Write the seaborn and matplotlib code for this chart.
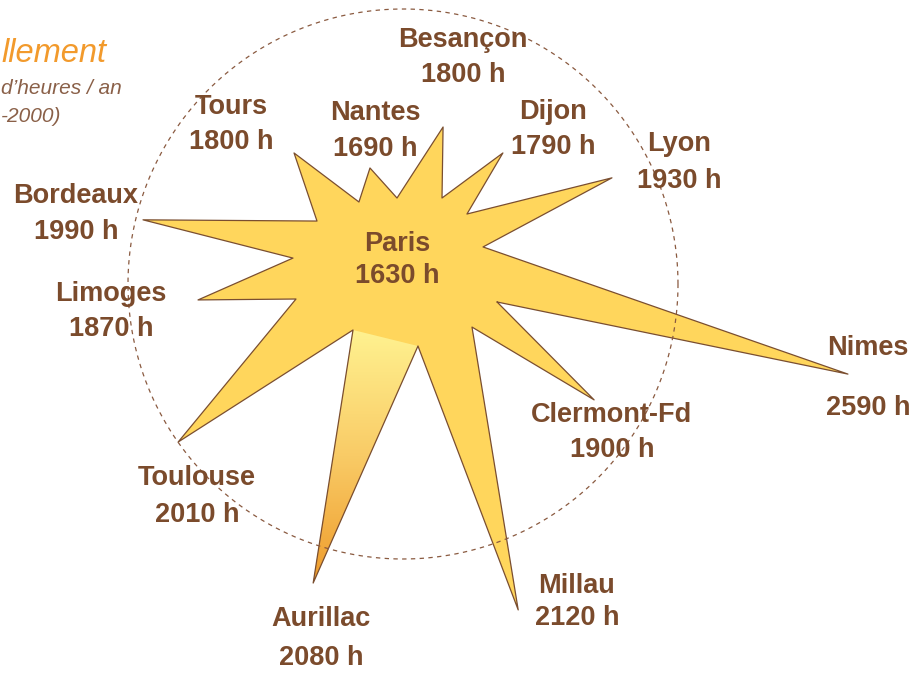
import numpy as np
import matplotlib.pyplot as plt
import seaborn as sns
from matplotlib.colors import LinearSegmentedColormap
from matplotlib.patches import Polygon

# Ensoleillement moyen par ville (heures / an)
villes = ["Nimes", "Lyon", "Dijon", "Besançon", "Nantes", "Tours",
          "Bordeaux", "Limoges", "Toulouse", "Aurillac", "Millau", "Clermont-Fd"]
heures = [2590, 1930, 1790, 1800, 1690, 1800, 1990, 1870, 2010, 2080, 2120, 1900]
paris_heures = 1630

# direction (degrés) et longueur de chaque branche de l'étoile, depuis Paris
branche_angle = [-13.9, 21.2, 45.3, 70.4, 104.9, 132.8, 170.5, 190.9, 219.7, 255.7, 289.5, 325.3]
branche_long = [466.6, 232.7, 153.4, 143.3, 97.3, 148.6, 255.5, 200.6, 281.9, 331.3, 369.1, 242.2]
# creux entre deux branches (angle, rayon)
creux_angle = [9.7, 33.7, 53.7, 88.2, 121.0, 152.3, 177.8, 200.5, 238.3, 285.3, 319.8, 338.6]
creux_rayon = [89.3, 86.5, 79.4, 64.0, 70.0, 88.1, 102.1, 105.7, 79.9, 87.1, 100.8, 109.6]

# textes du titre, visibles seulement en partie sur l'image
titre = "llement"
sous_titre = ["d’heures / an", "-2000)"]

# position des étiquettes (pixels de l'image : centre du nom, centre des heures)
etiquettes = {
    "Nimes": (868, 348, 408), "Lyon": (679, 144, 181), "Dijon": (553, 112, 147),
    "Besançon": (463, 40, 75), "Nantes": (375, 113, 149), "Tours": (231, 107, 142),
    "Bordeaux": (76, 196, 232), "Limoges": (111, 294, 329), "Toulouse": (197, 478, 515),
    "Aurillac": (321, 619, 658), "Millau": (577, 586, 618), "Clermont-Fd": (612, 415, 450),
}

W, H = 914, 673
CX, CY = 395, 262  # Paris, en pixels


def px(x, y):
    return x - CX, CY - y


def polar(a, r):
    a = np.radians(a)
    return r * np.cos(a), r * np.sin(a)


sns.set_theme(style="white")
plt.rcParams["font.family"] = ["Liberation Sans", "DejaVu Sans"]

fig = plt.figure(figsize=(W / 100, H / 100), dpi=100)
ax = fig.add_axes([0, 0, 1, 1])
ax.set_axis_off()

brun = "#7B4B2C"
jaune = "#FFD65C"

# construction de l'étoile : creux de départ puis branche + creux
pts = []
for i in range(len(villes)):
    pts.append(polar(branche_angle[i], branche_long[i]))
    pts.append(polar(creux_angle[i], creux_rayon[i]))
pts = [polar(creux_angle[-1], creux_rayon[-1])] + pts
pts = np.array(pts)

ax.fill(pts[:, 0], pts[:, 1], color=jaune, lw=0, zorder=2)

# branche d'Aurillac en dégradé
ia = villes.index("Aurillac")
tri = np.array([polar(creux_angle[ia - 1], creux_rayon[ia - 1]),
                polar(branche_angle[ia], branche_long[ia]),
                polar(creux_angle[ia], creux_rayon[ia])])
cmap = LinearSegmentedColormap.from_list("aur", ["#FFF290", "#F9CB66", "#EE9B2B"])
grad = np.linspace(0, 1, 256).reshape(-1, 1)
img = ax.imshow(grad, cmap=cmap, aspect="auto", origin="upper",
                extent=[tri[:, 0].min(), tri[:, 0].max(), tri[:, 1].min(), tri[:, 1].max()],
                zorder=3)
clip = Polygon(tri, closed=True, transform=ax.transData, facecolor="none", edgecolor="none")
ax.add_patch(clip)
img.set_clip_path(clip)

# contour de l'étoile
ax.plot(np.append(pts[:, 0], pts[0, 0]), np.append(pts[:, 1], pts[0, 1]),
        color="#7A4E30", lw=0.9, zorder=4)

# cercle pointillé
t = np.linspace(0, 2 * np.pi, 500)
ccx, ccy = px(403, 284)
sns.lineplot(x=ccx + 275 * np.cos(t), y=ccy + 275 * np.sin(t), sort=False,
             estimator=None, color="#8A5A40", lw=0.9, linestyle=(0, (3.5, 3.5)),
             ax=ax, zorder=5)

# étiquettes
kw = dict(ha="center", va="center", fontsize=19.5, fontweight="bold", color=brun, zorder=6)
for v, h in zip(villes, heures):
    x, y1, y2 = etiquettes[v]
    ax.text(*px(x, y1), v, **kw)
    ax.text(*px(x, y2), f"{h} h", **kw)
ax.text(*px(397, 244), "Paris", **kw)
ax.text(*px(397, 276), f"{paris_heures} h", **kw)

# titre (fragment visible en haut à gauche)
ax.text(*px(1, 54), titre, ha="left", va="center", fontsize=23.5,
        style="italic", color="#F29A2C")
ax.text(*px(1, 88), sous_titre[0], ha="left", va="center", fontsize=15,
        style="italic", color="#8A6048")
ax.text(*px(1, 116), sous_titre[1], ha="left", va="center", fontsize=15,
        style="italic", color="#8A6048")

ax.set_xlim(-CX, W - CX)
ax.set_ylim(CY - H, CY)

fig.savefig("out.png", dpi=100)
